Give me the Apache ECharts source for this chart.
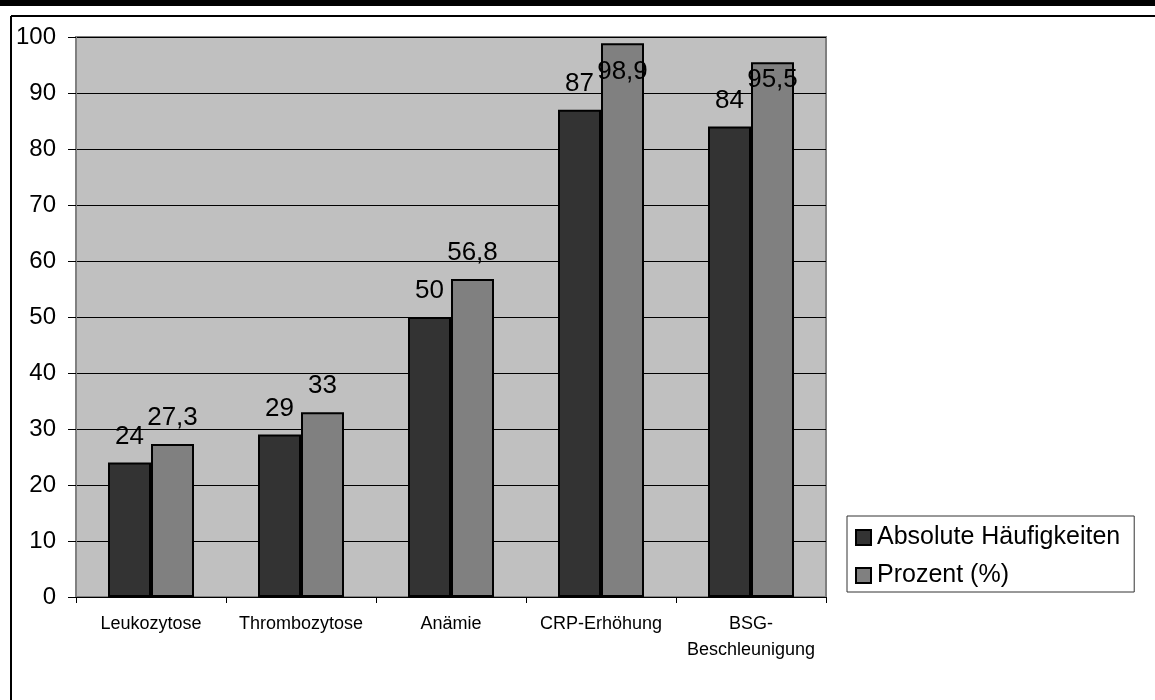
<!DOCTYPE html>
<html>
<head>
<meta charset="utf-8">
<script src="https://cdn.jsdelivr.net/npm/echarts@6/dist/echarts.min.js"></script>
<style>
html,body{margin:0;padding:0;background:#fff;}
#c{width:1155px;height:700px;}
</style>
</head>
<body>
<div id="c"></div>
<script>
const categories = ['Leukozytose', 'Thrombozytose', 'Anämie', 'CRP-Erhöhung', 'BSG-\nBeschleunigung'];
const absoluteValues = [24, 29, 50, 87, 84];
const percentValues = [27.3, 33, 56.8, 98.9, 95.5];
const seriesNames = ['Absolute Häufigkeiten', 'Prozent (%)'];
const yTicks = { min: 0, max: 100, interval: 10 };

// label vertical offsets (style only): Excel pushes the top labels down into the plot
const percentLabelOffsets = [0, 0, 0, 55, 44];

const FONT = '"Liberation Sans", Arial, sans-serif';
const fmt = v => String(v).replace('.', ',');

const chart = echarts.init(document.getElementById('c'), null, { renderer: 'canvas' });

const labelBase = {
  show: true,
  position: 'top',
  distance: 13,
  color: '#000',
  fontFamily: FONT,
  fontSize: 26,
  formatter: p => fmt(p.value)
};

chart.setOption({
  animation: false,
  backgroundColor: '#fff',
  textStyle: { fontFamily: FONT },
  graphic: [
    { type: 'rect', shape: { x: 0, y: 0, width: 1155, height: 6 }, style: { fill: '#000' } },
    { type: 'line', shape: { x1: 11, y1: 16, x2: 1155, y2: 16 }, style: { stroke: '#000', lineWidth: 2 } },
    { type: 'line', shape: { x1: 11, y1: 16, x2: 11, y2: 700 }, style: { stroke: '#000', lineWidth: 2 } }
  ],
  grid: {
    left: 76, right: 329, top: 37, bottom: 103,
    show: true,
    backgroundColor: '#C0C0C0',
    borderColor: '#808080',
    borderWidth: 2
  },
  legend: {
    orient: 'vertical',
    left: 847, top: 516,
    padding: [9, 14, 4, 8],
    itemGap: 13,
    itemWidth: 15, itemHeight: 15,
    borderColor: '#333',
    borderWidth: 1,
    backgroundColor: '#fff',
    icon: 'rect',
    textStyle: { fontFamily: FONT, fontSize: 25, color: '#000', padding: [0, 0, 0, 1] },
    data: seriesNames
  },
  xAxis: {
    type: 'category',
    data: categories,
    axisLine: { show: true, lineStyle: { color: '#000', width: 1 } },
    axisTick: { show: true, alignWithLabel: false, length: 6, lineStyle: { color: '#000' } },
    axisLabel: { fontFamily: FONT, fontSize: 18, color: '#000', margin: 14, lineHeight: 26, interval: 0 },
    splitLine: { show: false }
  },
  yAxis: {
    type: 'value',
    min: yTicks.min, max: yTicks.max, interval: yTicks.interval,
    axisLine: { show: true, lineStyle: { color: '#808080', width: 2 } },
    axisTick: { show: true, length: 8, lineStyle: { color: '#000' } },
    axisLabel: { fontFamily: FONT, fontSize: 24, color: '#000', margin: 20 },
    splitLine: { show: true, lineStyle: { color: '#000', width: 1 } }
  },
  series: [
    {
      name: seriesNames[0],
      type: 'bar',
      data: absoluteValues,
      barWidth: 43,
      barGap: '0%',
      itemStyle: { color: '#333333', borderColor: '#000', borderWidth: 2 },
      label: labelBase
    },
    {
      name: seriesNames[1],
      type: 'bar',
      data: percentValues.map((v, i) => ({
        value: v,
        label: { offset: [0, percentLabelOffsets[i]] }
      })),
      barWidth: 43,
      barGap: '0%',
      itemStyle: { color: '#808080', borderColor: '#000', borderWidth: 2 },
      label: labelBase
    }
  ]
});
</script>
</body>
</html>
